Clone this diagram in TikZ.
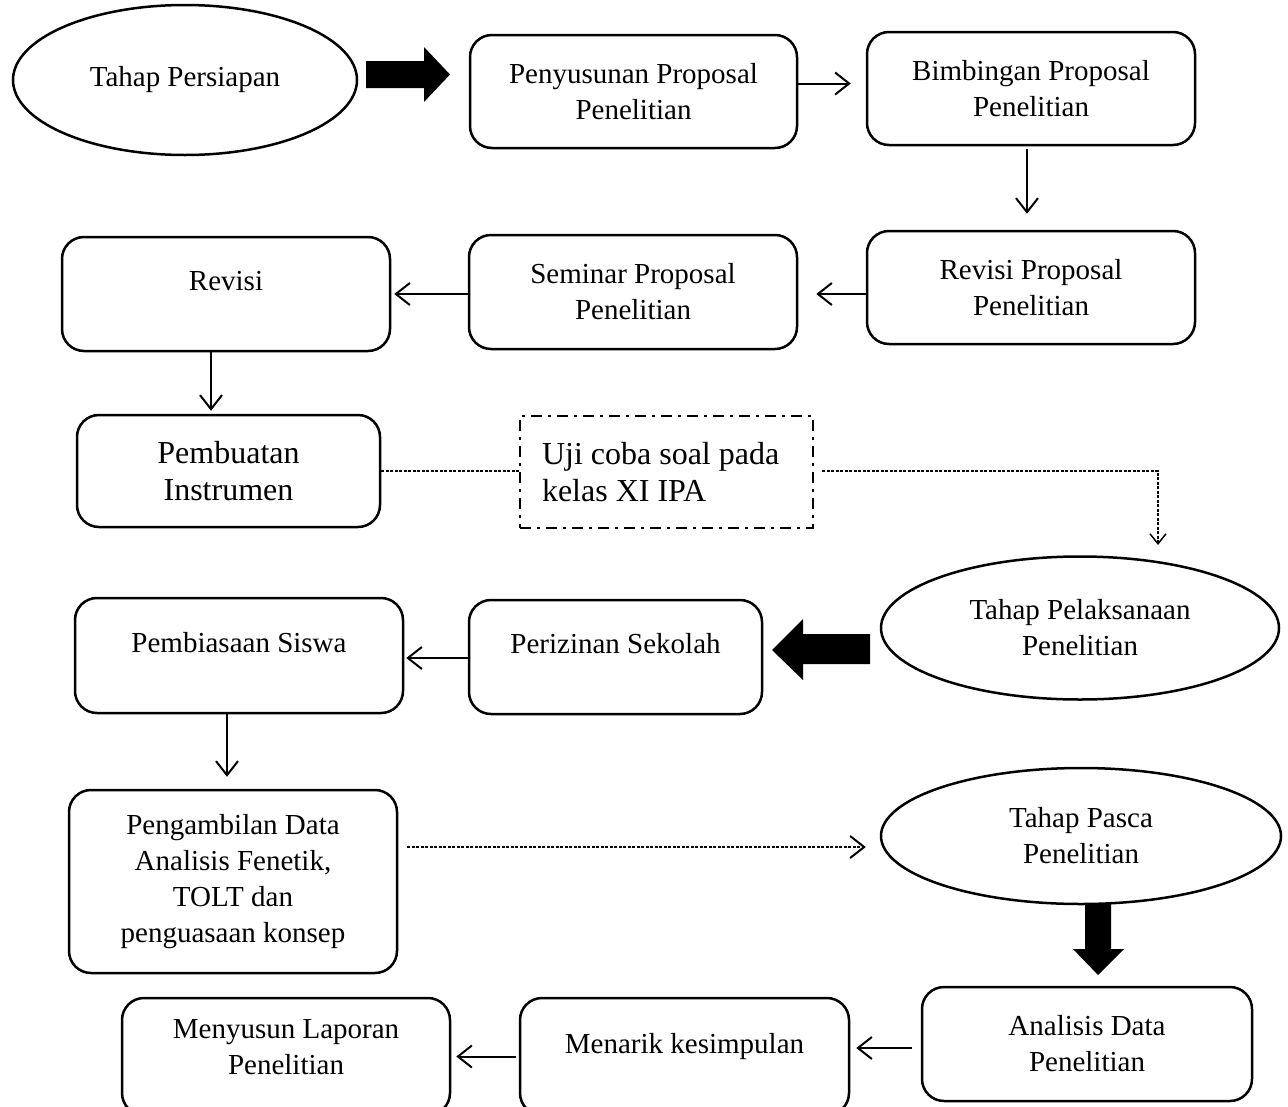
\documentclass[tikz,border=0pt]{standalone}
\usepackage{fontspec}
\setmainfont{Liberation Serif}
\usetikzlibrary{shapes.geometric,arrows.meta}
\begin{document}
\begin{tikzpicture}[x=1pt,y=-1pt,
  txt/.style={font=\fontsize{29}{36}\selectfont},
  bigtxt/.style={font=\fontsize{32}{37}\selectfont},
  box/.style={draw, line width=2.5pt, rounded corners=22pt, inner sep=0pt, align=center, txt},
  oval/.style={draw, ellipse, line width=2.5pt, inner sep=0pt, align=center, txt},
  oneline/.style={text height=20pt, text depth=27pt},
  arr/.style={line width=2pt, -{Straight Barb[length=14pt,width=22pt]}},
  dsh/.style={line width=1.3pt, dash pattern=on 3pt off 1.5pt},
  dashdot/.style={draw, line width=2.2pt, dash pattern=on 11pt off 6pt on 3pt off 6pt, inner sep=0pt},
  blk/.style={fill=black}
]
\useasboundingbox (0,0) rectangle (1288,1106);
\clip (0,0) rectangle (1288,1106);

% nodes
\node[oval, minimum width=344pt, minimum height=150pt] (persiapan) at (185,80) {Tahap Persiapan};
\node[box, minimum width=327pt, minimum height=113pt] (susun) at (633.5,91.5) {Penyusunan Proposal\\Penelitian};
\node[box, minimum width=328pt, minimum height=113pt] (bimb) at (1031,88.5) {Bimbingan Proposal\\Penelitian};
\node[box, minimum width=328pt, minimum height=113pt] (revp) at (1031,287.5) {Revisi Proposal\\Penelitian};
\node[box, minimum width=328pt, minimum height=114pt] (seminar) at (633,292) {Seminar Proposal\\Penelitian};
\node[box, oneline, minimum width=328pt, minimum height=114pt] (revisi) at (226,294) {Revisi};
\node[box, bigtxt, minimum width=303pt, minimum height=112pt] (instr) at (228.5,471) {Pembuatan\\Instrumen};
\node[dashdot, bigtxt, align=flush left, text width=249pt, minimum width=293pt, minimum height=112pt] (uji) at (666.5,472) {Uji coba soal pada\\kelas XI IPA};
\node[oval, minimum width=398pt, minimum height=143pt] (pelaks) at (1080,628) {Tahap Pelaksanaan\\Penelitian};
\node[box, oneline, minimum width=293pt, minimum height=114pt] (izin) at (615.5,657) {Perizinan Sekolah};
\node[box, oneline, minimum width=328pt, minimum height=115pt] (biasa) at (239,655.5) {Pembiasaan Siswa};
\node[box, minimum width=328pt, minimum height=183pt] (ambil) at (233,881.5) {Pengambilan Data\\Analisis Fenetik,\\TOLT dan\\penguasaan konsep};
\node[oval, minimum width=400pt, minimum height=136pt] (pasca) at (1081,836) {Tahap Pasca\\Penelitian};
\node[box, minimum width=330pt, minimum height=114pt] (analisis) at (1087,1044) {Analisis Data\\Penelitian};
\node[box, oneline, minimum width=329pt, minimum height=117pt] (menarik) at (684.5,1056.5) {Menarik kesimpulan};
\node[box, text depth=20pt, minimum width=328pt, minimum height=117pt] (menyusun) at (286,1056.5) {Menyusun Laporan\\Penelitian};

% block arrows
\fill[blk] (366,61) -- (424,61) -- (424,47) -- (450,74.5) -- (424,102) -- (424,88) -- (366,88) -- cycle;
\fill[blk] (870,634) -- (803,634) -- (803,619) -- (772,650) -- (803,680) -- (803,664) -- (870,664) -- cycle;
\fill[blk] (1085,903) -- (1085,949) -- (1073,949) -- (1098,975) -- (1124,949) -- (1111,949) -- (1111,903) -- cycle;

% connectors
\coordinate (a1) at ([yshift=8pt]susun.east);
\draw[arr, shorten >=15pt] (a1) -- (a1 -| bimb.west);
\coordinate (a2) at ([xshift=-4pt]bimb.south);
\draw[arr, shorten <=3pt, shorten >=16pt] (a2) -- (a2 |- revp.north);
\coordinate (a3) at ([yshift=-6.5pt]revp.west);
\draw[arr, shorten >=18pt] (a3) -- (a3 -| seminar.east);
\coordinate (a4) at ([yshift=-2pt]seminar.west);
\draw[arr, shorten >=3pt] (a4) -- (a4 -| revisi.east);
\coordinate (a5) at ([xshift=-15pt]revisi.south);
\draw[arr, shorten >=3pt] (a5) -- (a5 |- instr.north);
\draw[dsh] (instr.east) -- (instr.east -| uji.west);
\coordinate (ujiend) at (1158,545);
\draw[dsh, shorten <=8pt, -{Straight Barb[length=10pt,width=16pt,line width=1.5pt]}] ([yshift=1pt]uji.east) -| (ujiend);
\coordinate (a9) at ([yshift=-1pt]izin.west);
\draw[arr, shorten >=2pt] (a9) -- (a9 -| biasa.east);
\coordinate (a10) at ([xshift=-12pt]biasa.south);
\draw[arr, shorten >=12pt] (a10) -- (a10 |- ambil.north);
\coordinate (a11) at ([yshift=34.5pt]ambil.east);
\draw[dsh, shorten <=9pt, shorten >=14pt, -{Straight Barb[length=14pt,width=22pt,line width=2pt]}] (a11) -- (a11 -| pasca.west);
\coordinate (a13) at ([yshift=-4pt]analisis.west);
\draw[arr, shorten <=9pt, shorten >=6pt] (a13) -- (a13 -| menarik.east);
\coordinate (a14) at (menarik.west);
\draw[arr, shorten <=3pt, shorten >=5pt] (a14) -- (a14 -| menyusun.east);
\end{tikzpicture}
\end{document}
